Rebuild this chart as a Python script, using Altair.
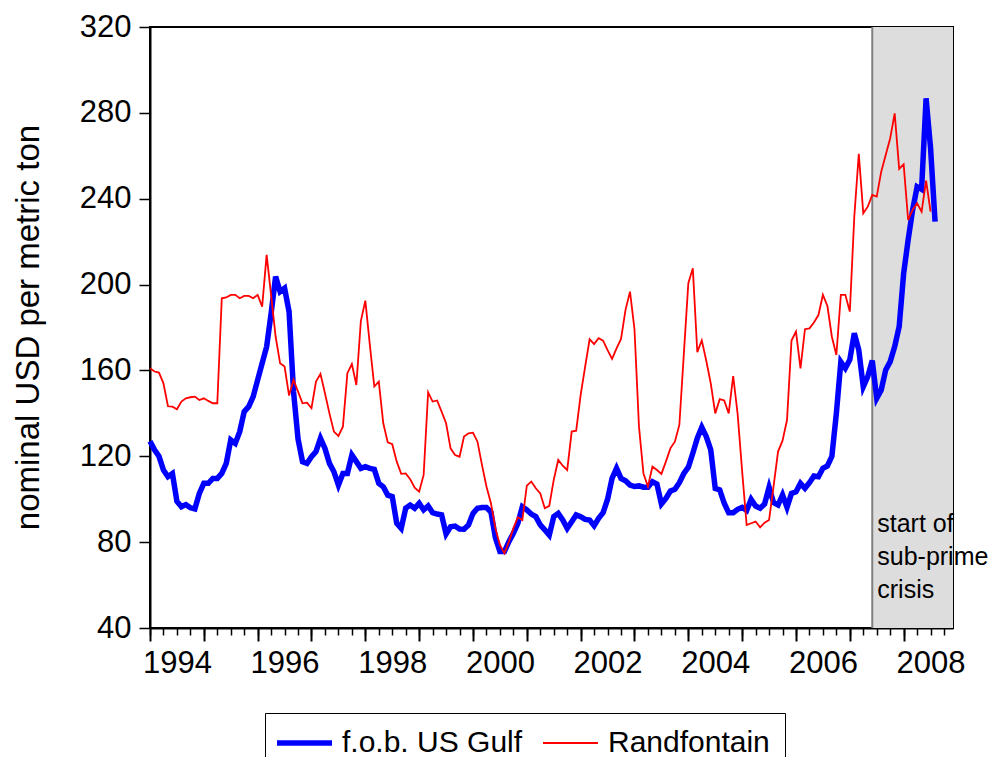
import altair as alt
import pandas as pd

FONT = "Liberation Sans"

# Monthly series, first observation January 1994
start_year = 1994
n_axis_months = 180  # axis spans 1994M01 .. 2008M12

fob_gulf = [127, 123, 120, 113.6, 110.5, 112, 99, 96.5, 97.5, 96,
            95.5, 102.7, 107.4, 107.4, 109.7, 109.7, 112, 116.7, 127.6, 126,
            131.5, 140.8, 143.1, 147.8, 155.6, 163.3, 171.1, 186.6, 203.7, 196.7,
            198.3, 187.4, 150, 128, 117.5, 116.7, 119.8, 122.2, 128.4, 123.7,
            116.7, 112.8, 106.6, 112, 112, 120.6, 117.5, 114.4, 115.2, 114.4,
            113.9, 107.4, 105.8, 101.9, 101.2, 88.8, 86.4, 95.8, 97.3, 95.8,
            98.1, 95, 96.9, 93.7, 93.1, 92.7, 83.8, 87.2, 87.5, 86.1,
            86, 88, 93.4, 95.8, 96.1, 96.1, 94, 82, 75.6, 75.6,
            80.2, 84.1, 88.8, 96.5, 95, 93.1, 91.9, 88, 85.7, 83.3,
            91.9, 93.4, 90.3, 86.4, 89.5, 92.7, 91.9, 90.6, 90.3, 87.7,
            91.1, 93.7, 100, 109.7, 114.4, 109.7, 108.6, 106.6, 105.9, 106.2,
            105.6, 105.6, 108.2, 107.1, 97.8, 100.4, 103.8, 104.6, 107.7, 112,
            114.9, 121.4, 128.4, 133.5, 129.2, 123, 105, 104.3, 98.1, 93.7,
            93.7, 95.3, 96.2, 94.7, 99.9, 96.8, 95.8, 97.8, 105.6, 98.4,
            97.3, 102, 96.2, 102.7, 103.5, 107.4, 105.1, 107.7, 110.8, 110.5,
            114.4, 115.5, 120, 140, 164, 161, 165, 177.3, 169.5, 152.4,
            157.1, 164.6, 147, 150.9, 160.2, 164.1, 171.1, 180.4, 205.2, 220.8,
            234.8, 245.6, 244.4, 286.8, 263.5, 229.3]

randfontain = [161, 159.5, 159, 154, 143.3, 143.1, 141.9, 145.5, 147, 147.5,
               147.8, 146.2, 147, 145.8, 144.7, 144.7, 193.6, 194, 195.2, 195.2,
               193.6, 194.7, 194.7, 193.6, 195.2, 189.7, 213.8, 195, 175.8, 163.3,
               161.8, 148.3, 155.6, 150.1, 144.7, 145, 142.4, 154.8, 158.4, 149.4,
               140, 131.5, 129.5, 133.8, 158.7, 163, 153.2, 183, 192.5, 172,
               152.5, 154.8, 135.4, 126.5, 125.6, 117.5, 111.8, 112, 109.3, 105.4,
               103.5, 111.3, 149.8, 145.5, 146, 140.8, 135.4, 123.7, 120.6, 119.8,
               129.2, 130.7, 131, 126.8, 116, 105.9, 98.1, 86.4, 78.7, 74.8,
               80.2, 86.4, 91.6, 90.3, 106.3, 108.2, 105.1, 102.7, 95.8, 96.9,
               109, 118.3, 115.6, 113.6, 131.5, 131.9, 148.6, 161.8, 174.5, 172.3,
               175, 173.9, 169.5, 165.4, 170.3, 174.7, 188.2, 196.7, 179.2, 133.8,
               112, 105.9, 115.2, 113.6, 111.8, 117.5, 123.7, 126.8, 134.6, 167.7,
               200.6, 207.6, 168.5, 174, 164.5, 154, 140, 146.6, 146, 140,
               157.4, 139.5, 113, 88, 88.8, 89.6, 86.9, 89.1, 90.3, 106,
               122.2, 127.3, 136.9, 173.9, 178.1, 161, 179.2, 179.6, 182.3, 185.8,
               195.2, 190, 175.7, 167.2, 195.2, 195.2, 187.4, 231.7, 260.9, 233.2,
               236.3, 241.8, 241, 252.6, 260.4, 268.2, 279.8, 253.9, 256, 230.1,
               234.8, 237.9, 234, 248.4, 234]

series_names = ["f.o.b. US Gulf", "Randfontain"]
series_colors = ["#0000FF", "#FF0000"]
series_widths = [5.5, 1.8]

y_ticks = [40, 80, 120, 160, 200, 240, 280, 320]
major_years = list(range(1994, 2009))
crisis_start_month_index = 161          # 2007M06
annotation_lines = ["start of", "sub-prime", "crisis"]
annotation_value = 84.5

x_min = start_year
x_max = start_year + (n_axis_months - 1) / 12
crisis_start = start_year + crisis_start_month_index / 12

rows = []
for name, vals in zip(series_names, [fob_gulf, randfontain]):
    for i, v in enumerate(vals):
        rows.append({"t": start_year + i / 12, "value": v, "series": name})
df = pd.DataFrame(rows)

shade_df = pd.DataFrame({"start": [crisis_start], "end": [x_max]})
ann_df = pd.DataFrame({"start": [crisis_start], "value": [annotation_value]})

xscale = alt.Scale(domain=[x_min, x_max], nice=False, zero=False)
yscale = alt.Scale(domain=[40, 320], nice=False, zero=False)

major_axis = alt.Axis(values=major_years, tickSize=13, tickWidth=2, tickColor="black",
                      labels=False, domain=True, domainColor="black", domainWidth=2,
                      grid=False, title=None, orient="bottom")

minor_vals = [start_year + q / 4 for q in range(60)]
minor_axis = alt.Axis(values=minor_vals, tickSize=7, tickWidth=1.5, tickColor="black",
                      domain=False, grid=False, title=None, orient="bottom",
                      labelExpr="datum.value % 2 == 0.5 ? '' + floor(datum.value) : ''",
                      labelFontSize=31, labelFont=FONT, labelColor="black",
                      labelPadding=13, labelFlush=False, labelOverlap=False, labelAngle=0)

y_axis = alt.Axis(values=y_ticks, tickSize=11, tickWidth=1.5, tickColor="black",
                  domainColor="black", domainWidth=2, grid=False,
                  labelFontSize=31, labelFont=FONT, labelColor="black", labelPadding=8,
                  title="nominal USD per metric ton", titleFontSize=33, titleFont=FONT,
                  titleFontWeight="normal", titleColor="black", titleX=-112, titleY=300,
                  titleAngle=270, titleAlign="center", titleBaseline="alphabetic")

legend = alt.Legend(orient="none", legendX=115, legendY=686, direction="horizontal",
                    title=None, labelFontSize=30, labelFont=FONT, labelColor="black",
                    symbolSize=484, symbolType="M-1,0H4", symbolOffset=-7,
                    strokeColor="black", fillColor="white", padding=15,
                    columnPadding=16, labelOffset=39, labelLimit=400)

shade = alt.Chart(shade_df).mark_rect(color="#DDDDDD").encode(
    x=alt.X("start:Q", scale=xscale, axis=minor_axis),
    x2="end:Q",
)

shade_edge = alt.Chart(shade_df).mark_rule(color="#808080", strokeWidth=2).encode(
    x=alt.X("start:Q", scale=xscale, axis=None),
)

lines = alt.Chart(df).mark_line().encode(
    x=alt.X("t:Q", scale=xscale, axis=major_axis),
    y=alt.Y("value:Q", scale=yscale, axis=y_axis),
    color=alt.Color("series:N", scale=alt.Scale(domain=series_names, range=series_colors),
                    legend=legend),
    strokeWidth=alt.StrokeWidth("series:O",
                                scale=alt.Scale(type="point", domain=series_names,
                                                range=series_widths, padding=0),
                                legend=legend),
)

annotation = alt.Chart(ann_df).mark_text(
    text=annotation_lines, align="left", baseline="alphabetic", dx=5,
    fontSize=25, lineHeight=33, font=FONT, color="black",
).encode(
    x=alt.X("start:Q", scale=xscale, axis=None),
    y=alt.Y("value:Q", scale=yscale, axis=y_axis),
)

chart = alt.layer(shade, shade_edge, lines, annotation).resolve_axis(
    x="independent"
).properties(
    width=803, height=601,
    autosize=alt.AutoSizeParams(type="none"),
    padding={"left": 142, "top": 19, "right": 40, "bottom": 129},
    background="white",
).configure_view(stroke="black", strokeWidth=2)

chart.save("out.html", embed_options={"renderer": "svg", "actions": False})
